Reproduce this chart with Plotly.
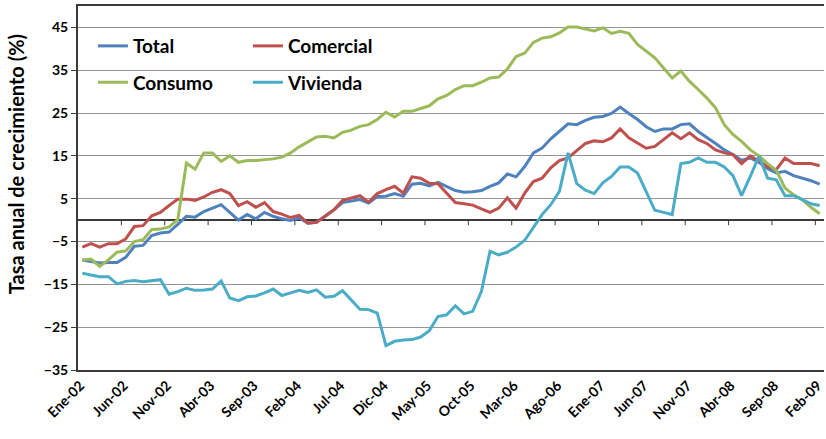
import plotly.graph_objects as go

# Meses (Ene-02 .. Feb-09)
ABREV = ["Ene", "Feb", "Mar", "Abr", "May", "Jun",
         "Jul", "Ago", "Sep", "Oct", "Nov", "Dic"]
MESES = [f"{ABREV[m]}-{a % 100:02d}" for a in range(2002, 2010) for m in range(12)][:86]

TOTAL = [
    -9.3, -9.6, -10.0, -9.9, -9.9, -8.7, -6.1, -5.9, -3.6, -3.0,
    -2.8, -1.0, 0.9, 0.7, 2.0, 2.8, 3.6, 1.8, 0.0, 1.3,
    0.3, 1.8, 0.9, 0.3, -0.1, 0.5, -0.7, -0.5, 0.9, 2.4,
    4.1, 4.4, 4.8, 4.0, 5.5, 5.6, 6.2, 5.6, 8.4, 8.6,
    8.0, 8.8, 7.9, 6.9, 6.5, 6.6, 6.9, 7.9, 8.7, 10.8,
    10.1, 12.5, 15.7, 16.8, 19.0, 20.7, 22.5, 22.3, 23.3, 24.0,
    24.2, 24.9, 26.4, 24.9, 23.5, 21.8, 20.7, 21.3, 21.3, 22.3,
    22.5, 20.7, 19.4, 17.9, 16.4, 15.3, 14.0, 14.5, 13.5, 12.0,
    11.0, 11.4, 10.4, 9.8, 9.2, 8.4,
]
COMERCIAL = [
    -6.3, -5.5, -6.3, -5.5, -5.5, -4.4, -1.5, -1.3, 1.0, 1.8,
    3.4, 4.9, 4.9, 4.6, 5.4, 6.5, 7.1, 6.2, 3.4, 4.3,
    3.0, 4.1, 2.0, 1.4, 0.6, 1.1, -0.7, -0.5, 0.9, 2.4,
    4.6, 5.2, 5.7, 4.2, 6.2, 7.1, 7.9, 6.3, 10.1, 9.8,
    8.6, 8.5, 6.3, 4.1, 3.8, 3.5, 2.6, 1.8, 2.8, 5.2,
    2.8, 6.3, 9.0, 9.8, 12.2, 13.9, 14.5, 16.1, 17.9, 18.5,
    18.3, 19.2, 21.3, 19.2, 18.0, 16.8, 17.2, 18.8, 20.4, 19.0,
    20.4, 18.8, 17.9, 16.4, 15.7, 15.3, 13.2, 15.0, 13.7, 12.5,
    11.8, 14.5, 13.2, 13.2, 13.2, 12.7,
]
CONSUMO = [
    -9.3, -9.1, -10.8, -9.3, -7.5, -7.2, -5.0, -4.6, -2.2, -2.1,
    -1.6, 0.1, 13.3, 11.9, 15.7, 15.7, 13.7, 15.0, 13.5, 13.9,
    13.9, 14.1, 14.3, 14.7, 15.7, 17.1, 18.2, 19.4, 19.6, 19.2,
    20.5, 21.0, 21.9, 22.3, 23.5, 25.2, 24.1, 25.4, 25.4, 26.0,
    26.7, 28.3, 29.1, 30.5, 31.4, 31.4, 32.2, 33.2, 33.4, 35.3,
    38.2, 39.0, 41.5, 42.5, 42.8, 43.7, 45.1, 45.1, 44.6, 44.2,
    44.9, 43.6, 44.1, 43.6, 41.0, 39.4, 37.9, 35.5, 33.2, 34.8,
    32.4, 30.5, 28.5, 26.2, 22.3, 20.0, 18.4, 16.4, 15.0, 13.2,
    11.6, 7.5, 5.9, 4.8, 3.0, 1.5,
]
VIVIENDA = [
    -12.4, -12.8, -13.2, -13.2, -14.9, -14.3, -14.1, -14.4, -14.2, -13.9,
    -17.3, -16.7, -15.9, -16.4, -16.3, -16.1, -14.2, -18.2, -18.8, -17.9,
    -17.7, -17.0, -16.1, -17.6, -17.0, -16.4, -16.9, -16.3, -18.0, -17.8,
    -16.5, -18.6, -20.8, -20.9, -21.7, -29.3, -28.3, -28.0, -27.9, -27.3,
    -25.8, -22.5, -22.1, -20.0, -21.9, -21.3, -16.7, -7.3, -8.1, -7.5,
    -6.3, -4.7, -1.8, 1.3, 3.6, 6.7, 15.7, 8.5, 7.0, 6.2,
    8.7, 10.2, 12.4, 12.4, 11.0, 6.7, 2.3, 1.8, 1.3, 13.2,
    13.5, 14.5, 13.5, 13.5, 12.4, 10.4, 5.7, 10.2, 14.9, 9.8,
    9.4, 5.7, 5.7, 4.8, 3.8, 3.4,
]

SERIES = [
    ("Total", TOTAL, "#4F81BD", "legend"),
    ("Comercial", COMERCIAL, "#C0504D", "legend"),
    ("Consumo", CONSUMO, "#9BBB59", "legend2"),
    ("Vivienda", VIVIENDA, "#4BACC6", "legend2"),
]

AXIS_COLOR = "#3a3a3a"
GRID_COLOR = "#959595"
FONT = "Lato, 'Open Sans', sans-serif"

fig = go.Figure()
for name, vals, color, leg in SERIES:
    fig.add_trace(go.Scatter(
        x=MESES, y=vals, name=name, mode="lines",
        line=dict(color=color, width=3),
        legend=leg,
    ))

# marcas del eje de categorias sobre la linea del cero
for k in range(5, 86, 5):
    fig.add_shape(type="line", xref="x", yref="y",
                  x0=k - 0.5, x1=k - 0.5, y0=0, y1=-1.2,
                  line=dict(color=AXIS_COLOR, width=1))

# titulo del eje Y, algo desplazado hacia arriba como en el original
fig.add_annotation(
    text="Tasa anual de crecimiento (%)", textangle=-90,
    xref="paper", yref="paper", x=-0.082, y=0.565,
    xanchor="center", yanchor="middle", showarrow=False,
    font=dict(family=FONT, size=20, color="#000000", weight="bold"),
)

legend_common = dict(
    orientation="h", xanchor="left", yanchor="middle",
    bgcolor="rgba(0,0,0,0)", itemwidth=30,
    entrywidth=110, entrywidthmode="pixels",
    font=dict(family=FONT, size=19, color="#000000", weight="bold"),
)

fig.update_layout(
    width=826, height=439,
    paper_bgcolor="white", plot_bgcolor="white",
    margin=dict(l=78, r=2, t=6, b=69),
    font=dict(family=FONT, color="#000000"),
    legend=dict(x=0.02, y=0.89, **legend_common),
    legend2=dict(x=0.02, y=0.79, **legend_common),
    showlegend=True,
)
fig.update_xaxes(
    type="category",
    tickvals=MESES[::5], ticktext=MESES[::5],
    tickangle=-45, ticklabelshift=-2,
    tickfont=dict(family=FONT, size=14, weight="bold"),
    showgrid=False, ticks="", automargin=False,
    showline=True, linecolor=AXIS_COLOR, linewidth=2, mirror=True,
    range=[-0.5, 85.5],
)
fig.update_yaxes(
    range=[-35, 50], tick0=-35, dtick=10,
    showgrid=True, gridcolor=GRID_COLOR, gridwidth=1,
    zeroline=True, zerolinecolor=AXIS_COLOR, zerolinewidth=1.5,
    ticks="outside", ticklen=5, tickcolor=AXIS_COLOR,
    showline=True, linecolor=AXIS_COLOR, linewidth=2,
    tickfont=dict(family=FONT, size=14, weight="bold"),
    automargin=False,
)

fig.write_html("out.html", post_script="document.body.style.margin='0';",
               config={"displayModeBar": False})
